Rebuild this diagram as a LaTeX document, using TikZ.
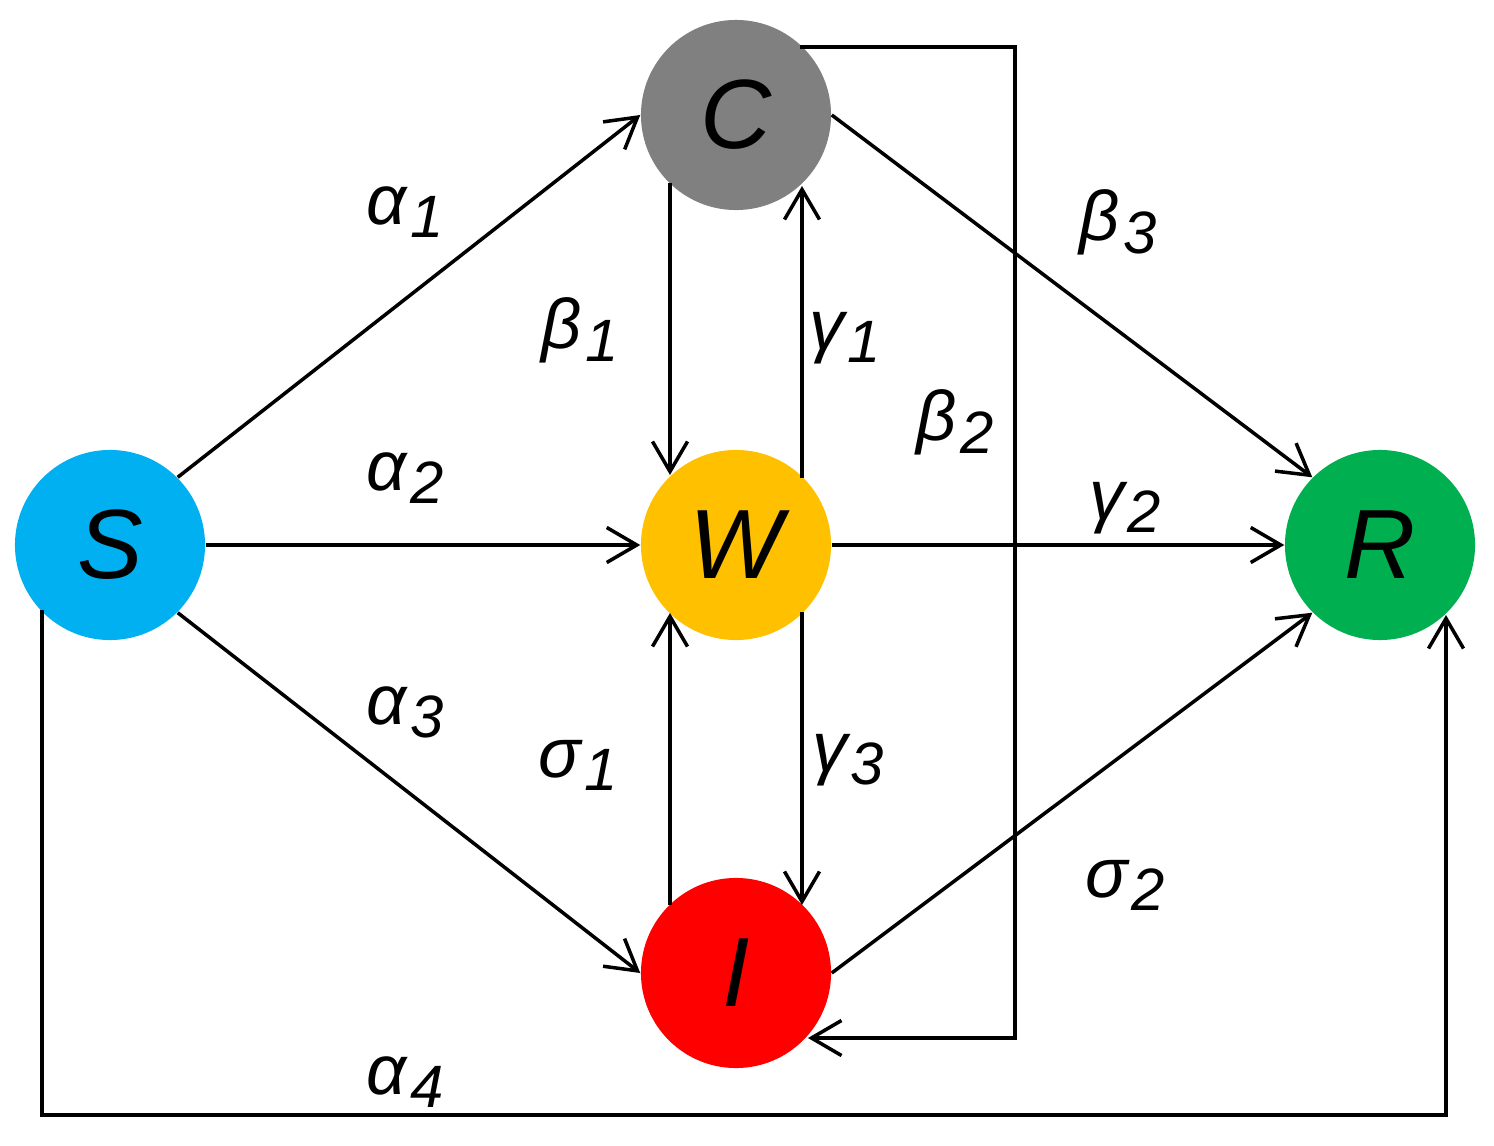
\documentclass[tikz,border=0pt]{standalone}
\usepackage{fontspec}
\setmainfont{Liberation Sans}
\usetikzlibrary{arrows.meta}
\definecolor{cS}{RGB}{0,176,240}
\definecolor{cC}{RGB}{128,128,128}
\definecolor{cW}{RGB}{255,192,0}
\definecolor{cI}{RGB}{255,0,0}
\definecolor{cR}{RGB}{0,176,80}
\newcommand{\lbl}[2]{\itshape #1\kern0.05em\raisebox{-0.35ex}{\fontsize{17}{20}\selectfont #2}}
\begin{document}
\begin{tikzpicture}[x=0.01cm,y=-0.01cm,
  st/.style={circle,minimum size=1.9cm,inner sep=0pt,font=\fontsize{28}{32}\selectfont\itshape},
  ar/.style={line width=1pt,-{Straight Barb[length=3mm,width=3.5mm]}},
  lb/.style={font=\fontsize{20}{24}\selectfont}]
\useasboundingbox (0,0) rectangle (1494,1146);
\node[st,fill=cS] (S) at (110,545) {S};
\node[st,fill=cC] (C) at (736,115) {C};
\node[st,fill=cW] (W) at (736,545) {W};
\node[st,fill=cI] (I) at (736,973) {I};
\node[st,fill=cR] (R) at (1380,545) {R};
\draw[ar] (S.45) -- (C.180);
\draw[ar] (S) -- (W);
\draw[ar] (S.-45) -- (I.180);
\draw[ar] (C.0) -- (R.135);
\draw[ar] (W) -- (R);
\draw[ar] (I.0) -- (R.225);
\draw[ar] (C.center) ++(-66,68) -- ++(0,292);
\draw[ar] (W.center) ++(66,-67) -- ++(0,-292);
\draw[ar] (W.center) ++(66,67) -- ++(0,293);
\draw[ar] (I.center) ++(-66,-68) -- ++(0,-292);
\draw[ar] (S.center) ++(-68,65) |- (1446,1115) -- ++(0,-500);
\draw[ar] (C.center) ++(64,-68) -| (1015,1038) -- ++(-207,0);
\node[lb] at (405,212) {\lbl{α}{1}};
\node[lb] at (405,478) {\lbl{α}{2}};
\node[lb] at (405,712) {\lbl{α}{3}};
\node[lb] at (405,1082) {\lbl{α}{4}};
\node[lb] at (580,330) {\lbl{β}{1}};
\node[lb] at (845,338) {\lbl{γ}{1}};
\node[lb] at (955,422) {\lbl{β}{2}};
\node[lb] at (1118,222) {\lbl{β}{3}};
\node[lb] at (1125,508) {\lbl{γ}{2}};
\node[lb] at (848,760) {\lbl{γ}{3}};
\node[lb] at (578,765) {\lbl{σ}{1}};
\node[lb] at (1125,885) {\lbl{σ}{2}};
\end{tikzpicture}
\end{document}
